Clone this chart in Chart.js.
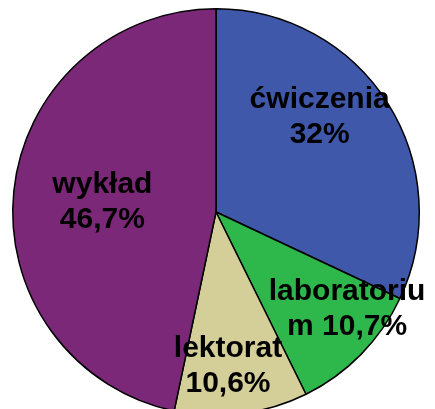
<!DOCTYPE html>
<html>
<head>
<meta charset="utf-8">
<script src="https://cdn.jsdelivr.net/npm/chart.js@4"></script>
<style>
  html, body { margin: 0; padding: 0; background: #fff; overflow: hidden; }
  canvas { display: block; }
</style>
</head>
<body>
<canvas id="grafico" width="435" height="430"></canvas>
<script>
// dane z wykresu
const kategorie = ["ćwiczenia", "laboratorium", "lektorat", "wykład"];
const procenty = [32, 10.7, 10.6, 46.7];
const kolory = ["#3F58AA", "#2EB84B", "#D4CE98", "#7B2878"];

const ctx = document.getElementById("grafico");

// etykiety rysowane recznie (jak w Excelu, z zawijaniem)
const etykiety = {
  id: "etykiety",
  afterDatasetsDraw(chart, args, opts) {
    const c = chart.ctx;
    const arcs = chart.getDatasetMeta(0).data;
    c.save();
    c.font = "bold 30px 'Liberation Sans', Arial, sans-serif";
    c.fillStyle = "#000";
    c.textAlign = "center";
    c.textBaseline = "alphabetic";
    arcs.forEach((arc, i) => {
      const tekst = kategorie[i] + " " + String(procenty[i]).replace(".", ",") + "%";
      const linie = zawin(c, tekst, opts.maxSzer);
      const p = opts.pozycje[i];
      const cx = arc.x + p[0] * arc.outerRadius;
      const cy = arc.y + p[1] * arc.outerRadius;
      linie.forEach((l, j) => {
        const y = cy + (j - (linie.length - 1) / 2) * opts.linia + 10.5;
        c.fillText(l, cx, y);
      });
    });
    c.restore();
  },
};

function zawin(c, tekst, max) {
  const linie = [];
  let akt = "";
  for (const ch of tekst) {
    const proba = akt + ch;
    if (c.measureText(proba).width > max && akt.length) {
      // lamanie po spacji jesli sie da
      const sp = akt.lastIndexOf(" ");
      if (ch === " ") { linie.push(akt); akt = ""; continue; }
      if (sp > 0) { linie.push(akt.slice(0, sp)); akt = akt.slice(sp + 1) + ch; }
      else { linie.push(akt); akt = ch; }
    } else {
      akt = proba;
    }
  }
  if (akt) linie.push(akt);
  // jesli wszystko sie zmiescilo w jednej linii, podziel na nazwe i procent
  if (linie.length === 1) {
    const sp = tekst.lastIndexOf(" ");
    return [tekst.slice(0, sp), tekst.slice(sp + 1)];
  }
  return linie;
}

new Chart(ctx, {
  type: "pie",
  data: {
    labels: kategorie,
    datasets: [
      {
        data: procenty,
        backgroundColor: kolory,
        borderColor: "#000",
        borderWidth: 1.5,
      },
    ],
  },
  options: {
    responsive: false,
    animation: false,
    layout: { padding: { left: 12, right: 15, top: 8, bottom: 14 } },
    plugins: {
      legend: { display: false },
      tooltip: { enabled: false },
      etykiety: {
        maxSzer: 168,
        linia: 35,
        pozycje: [[0.51, -0.475], [0.645, 0.466], [0.059, 0.749], [-0.559, -0.061]],
      },
    },
  },
  plugins: [etykiety],
});
</script>
</body>
</html>
